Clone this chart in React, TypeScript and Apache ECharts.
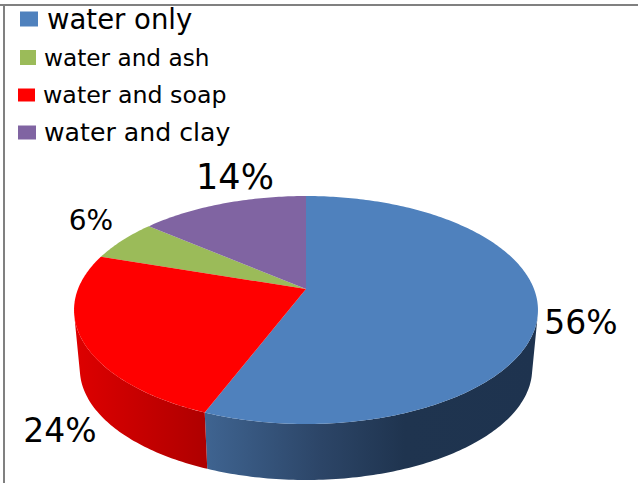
import React, { useEffect, useRef } from "react";
import * as echarts from "echarts";

const categories = ["water only", "water and ash", "water and soap", "water and clay"];
// Percent shares, in the legend's order
const shares = [56, 6, 24, 14];
// Order in which slices run clockwise from twelve o'clock
const sliceOrder = [0, 2, 1, 3];
const colors = ["#4F81BD", "#9BBB59", "#FF0000", "#8064A2"];

const W = 638;
const H = 483;
// Perspective projection of the pie's disc
const CX = 306;
const CY = 289;
const A = 228;
const B = 110.1;
const K = 0.1842;
const BOTTOM_SCALE = 0.975;
const BOTTOM_DY = 59.4;

const legendLayout = [
  { left: 20, top: 5, w: 18, h: 15, size: 27.5, pad: 4 },
  { left: 20, top: 46, w: 16, h: 15, size: 23.2, pad: 3 },
  { left: 18, top: 83, w: 17, h: 13, size: 23.7, pad: 3 },
  { left: 18, top: 120, w: 18, h: 14, size: 25.2, pad: 3 },
];
const labelLayout = [
  { x: 581, y: 322, size: 33 },
  { x: 91, y: 220, size: 28 },
  { x: 60, y: 430, size: 33 },
  { x: 235, y: 177, size: 35 },
];
const sideGradients: Record<number, [number, string][]> = {
  0: [[0, "#3F6491"], [0.35, "#2C4567"], [0.6, "#1F344F"], [1, "#1E334F"]],
  2: [[0, "#DE0000"], [1, "#AE0000"]],
};

const FONT = "DejaVu Sans";

function top(pct: number): [number, number] {
  const t = (pct / 100) * Math.PI * 2;
  const u = Math.sin(t);
  const v = -Math.cos(t);
  const w = 1 - K * v;
  return [CX + (A * u) / w, CY + (B * v) / w];
}
function bottom(pct: number): [number, number] {
  const [x, y] = top(pct);
  return [CX + (x - CX) * BOTTOM_SCALE, CY + (y - CY) * BOTTOM_SCALE + BOTTOM_DY];
}
function arc(from: number, to: number, f: (p: number) => [number, number]) {
  const pts: [number, number][] = [];
  const n = Math.max(2, Math.ceil(Math.abs(to - from) * 4));
  for (let i = 0; i <= n; i++) pts.push(f(from + ((to - from) * i) / n));
  return pts;
}
// The silhouette is where the rim's tangent runs along the wall's edge
function visible(pct: number) {
  const d = 0.01;
  const a = top(pct - d);
  const b = top(pct + d);
  const t = top(pct);
  const c = bottom(pct);
  return (b[0] - a[0]) * (c[1] - t[1]) - (b[1] - a[1]) * (c[0] - t[0]) < 0;
}

function starts() {
  const out: Record<number, number> = {};
  let acc = 0;
  for (const idx of sliceOrder) {
    out[idx] = acc;
    acc += shares[idx];
  }
  return out;
}

function buildOption() {
  const start = starts();
  const sideSeries: any = {
    type: "custom",
    name: "walls",
    coordinateSystem: "none",
    z: 1,
    silent: true,
    data: categories.map((_, i) => [start[i], shares[i], i]),
    renderItem: (_p: any, api: any) => {
      const s = api.value(0) as number;
      const e = s + (api.value(1) as number);
      const i = api.value(2) as number;
      const stops = sideGradients[i];
      if (!stops) return { type: "group", children: [] };
      let a = s;
      let b = e;
      while (a < b && !visible(a)) a += 0.05;
      while (b > a && !visible(b)) b -= 0.05;
      if (b <= a) return { type: "group", children: [] };
      const points = [...arc(a, b, top), ...arc(b, a, bottom)];
      return {
        type: "polygon",
        shape: { points },
        style: {
          fill: new echarts.graphic.LinearGradient(
            0, 0, 1, 0,
            stops.map(([offset, color]) => ({ offset, color }))
          ),
        },
      };
    },
  };

  const topSeries = categories.map((name, i) => ({
    type: "custom",
    name,
    coordinateSystem: "none",
    z: 2,
    silent: true,
    itemStyle: { color: colors[i] },
    data: [[start[i], shares[i]]],
    renderItem: (_p: any, api: any) => {
      const s = api.value(0) as number;
      const e = s + (api.value(1) as number);
      const points = [[CX, CY], ...arc(s, e, top)];
      const lab = labelLayout[i];
      return {
        type: "group",
        children: [
          { type: "polygon", shape: { points }, style: { fill: colors[i] } },
          {
            type: "text",
            z2: 5,
            style: {
              x: lab.x,
              y: lab.y,
              text: `${api.value(1)}%`,
              fill: "#000",
              font: `${lab.size}px "${FONT}"`,
              align: "center",
              verticalAlign: "middle",
            },
          },
        ],
      };
    },
  }));

  return {
    animation: false,
    backgroundColor: "#fff",
    legend: categories.map((name, i) => ({
      data: [name],
      left: legendLayout[i].left,
      top: legendLayout[i].top,
      padding: 0,
      icon: "rect",
      itemWidth: legendLayout[i].w,
      itemHeight: legendLayout[i].h,
      selectedMode: false,
      textStyle: {
        fontFamily: FONT,
        fontSize: legendLayout[i].size,
        color: "#000",
        padding: [0, 0, 0, legendLayout[i].pad],
      },
    })),
    graphic: [
      { type: "rect", silent: true, shape: { x: 0, y: 4, width: W, height: 2 }, style: { fill: "#808080" } },
      { type: "rect", silent: true, shape: { x: 3, y: 4, width: 2, height: H - 4 }, style: { fill: "#808080" } },
    ],
    series: [sideSeries, ...topSeries],
  };
}

export default function App() {
  const ref = useRef<HTMLDivElement>(null);
  useEffect(() => {
    document.body.style.margin = "0";
    const chart = echarts.init(ref.current!, null, { renderer: "svg" });
    chart.setOption(buildOption() as any);
    return () => chart.dispose();
  }, []);
  return <div ref={ref} style={{ width: W, height: H }} />;
}
